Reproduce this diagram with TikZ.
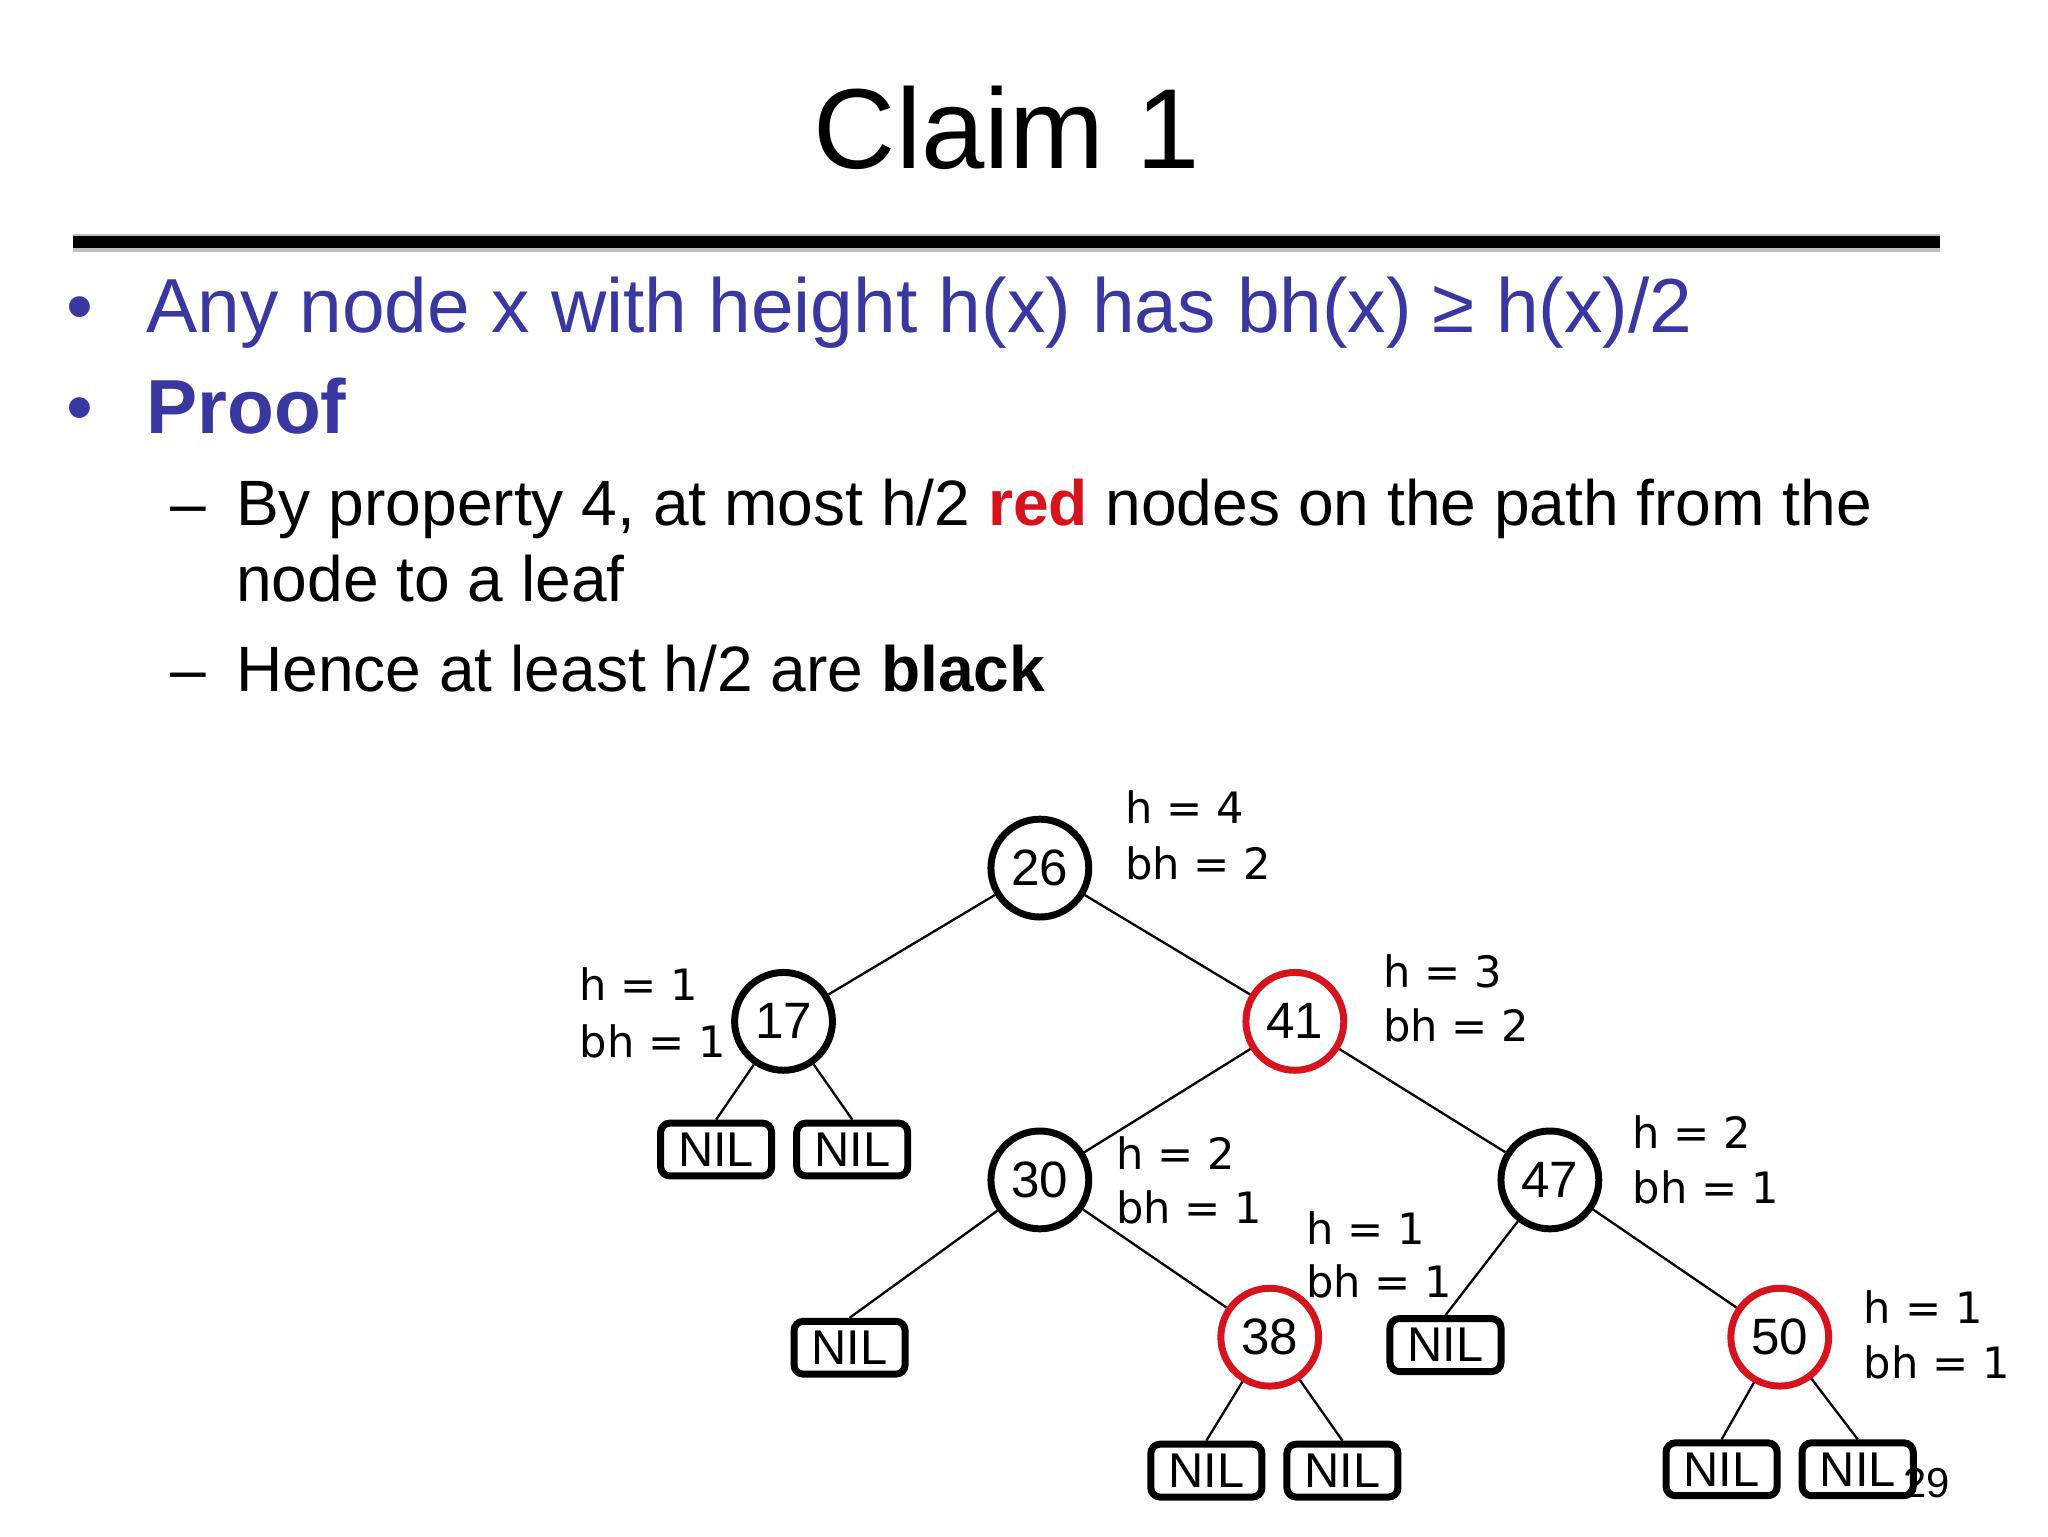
\documentclass[tikz,border=0pt]{standalone}
\usepackage{fontspec}
\setmainfont{Liberation Sans}
\newfontfamily\lblfont{DejaVu Sans}
\definecolor{bblue}{RGB}{56,56,160}
\definecolor{rred}{RGB}{214,20,30}
\begin{document}
\begin{tikzpicture}[x=0.01cm,y=-0.01cm,
  rb/.style={circle,draw,line width=1.5pt,minimum size=0.74cm,inner sep=0pt,font=\fontsize{11}{13}\selectfont},
  redn/.style={rb,draw=rred},
  nil/.style={draw,line width=1.5pt,rounded corners=2pt,minimum width=0.84cm,minimum height=0.40cm,inner sep=0pt,font=\fontsize{10.5}{12}\selectfont},
  lb/.style={anchor=base west,inner sep=0pt,font=\lblfont\fontsize{9.3}{11}\selectfont},
  txt/.style={anchor=base west,inner sep=0pt}]
\useasboundingbox (0,0) rectangle (1550,1163);
\node[inner sep=0pt,font=\fontsize{24.5}{28}\selectfont] (title) at (762,97) {Claim 1};
\draw[line width=4pt,black!25] (55,184) -- (1468,184);
\draw[line width=2.6pt,black] (55,183) -- (1468,183);
\begin{scope}[font=\fontsize{16.5}{20}\selectfont,bblue]
\node[txt,bblue] (b1) at (50,252) {•};
\node[txt,bblue] (t1) at (110,252) {Any node x with height h(x) has bh(x) ≥ h(x)/2};
\node[txt,bblue] (b2) at (50,328) {•};
\node[txt,bblue] (t2) at (110,328) {\bfseries Proof};
\end{scope}
\begin{scope}[font=\fontsize{13.8}{16}\selectfont]
\node[txt] (d1) at (128,398) {–};
\node[txt] (s1) at (178,398) {By property 4, at most h/2 \textcolor{rred}{\bfseries red} nodes on the path from the};
\node[txt] (s1b) at (178,455) {node to a leaf};
\node[txt] (d2) at (128,523) {–};
\node[txt] (s2) at (178,523) {Hence at least h/2 are \textbf{black}};
\end{scope}
\node[rb] (n26) at (787,657) {26};
\node[rb] (n17) at (593,773) {17};
\node[redn] (n41) at (980,773) {41};
\node[rb] (n30) at (787,893) {30};
\node[rb] (n47) at (1173,893) {47};
\node[redn] (n38) at (961,1012) {38};
\node[redn] (n50) at (1347,1012) {50};
\node[nil] (a1) at (542,870) {NIL};
\node[nil] (a2) at (645,870) {NIL};
\node[nil] (a3) at (643,1020) {NIL};
\node[nil] (a4) at (1094,1018) {NIL};
\node[nil] (a5) at (913,1113) {NIL};
\node[nil] (a6) at (1016,1113) {NIL};
\node[nil] (a7) at (1303,1112) {NIL};
\node[nil] (a8) at (1406,1112) {NIL};
\begin{scope}[line width=0.5pt]
\draw (n26) -- (n17); \draw (n26) -- (n41);
\draw (n17) -- (a1.north); \draw (n17) -- (a2.north);
\draw (n41) -- (n30); \draw (n41) -- (n47);
\draw (n30) -- (a3.north); \draw (n30) -- (n38);
\draw (n47) -- (a4.north); \draw (n47) -- (n50);
\draw (n38) -- (a5.north); \draw (n38) -- (a6.north);
\draw (n50) -- (a7.north); \draw (n50) -- (a8.north);
\end{scope}
\node[lb] (l1) at (851,623) {h = 4}; \node[lb] (l1b) at (851,666) {bh = 2};
\node[lb] (l2) at (438,757) {h = 1}; \node[lb] (l2b) at (438,800) {bh = 1};
\node[lb] (l3) at (1046,747) {h = 3}; \node[lb] (l3b) at (1046,788) {bh = 2};
\node[lb] (l4) at (844,885) {h = 2}; \node[lb] (l4b) at (844,926) {bh = 1};
\node[lb] (l5) at (988,942) {h = 1}; \node[lb] (l5b) at (988,982) {bh = 1};
\node[lb] (l6) at (1235,869) {h = 2}; \node[lb] (l6b) at (1235,911) {bh = 1};
\node[lb] (l7) at (1410,1002) {h = 1}; \node[lb] (l7b) at (1410,1043) {bh = 1};
\node[txt,font=\fontsize{9}{11}\selectfont] (pg) at (1440,1133) {29};
\end{tikzpicture}
\end{document}
